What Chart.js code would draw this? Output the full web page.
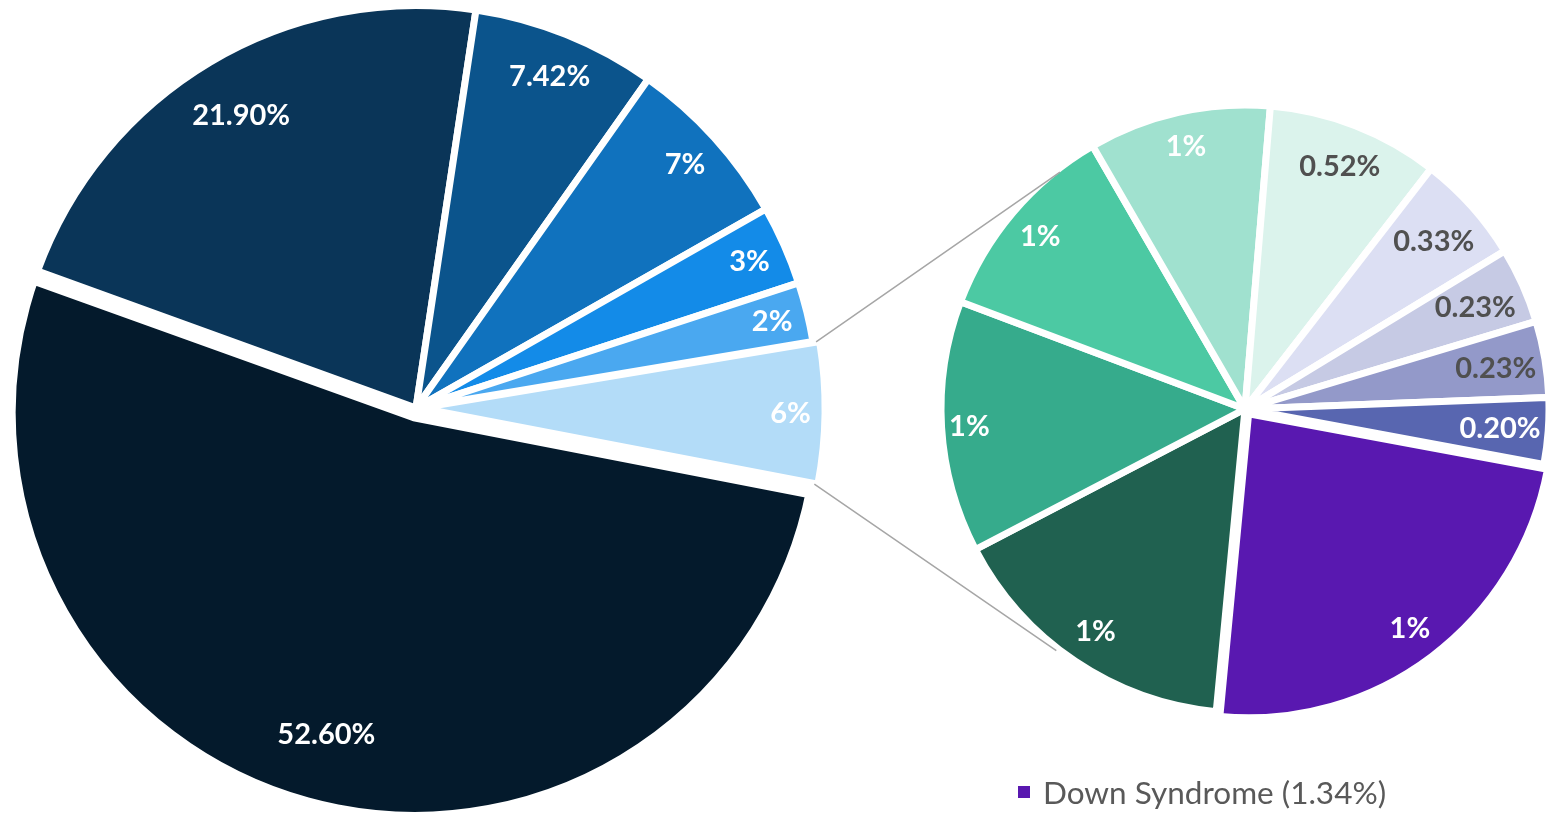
<!DOCTYPE html>
<html>
<head>
<meta charset="utf-8">
<script src="https://cdn.jsdelivr.net/npm/chart.js@4.4.1/dist/chart.umd.min.js"></script>
<style>
  html, body { margin: 0; padding: 0; background: #fff; overflow: hidden; }
  #wrap { position: relative; width: 1547px; height: 815px; }
  #wrap canvas { position: absolute; left: 0; top: 0; }
  #legend { position: absolute; left: 1018px; top: 773px; font-family: Lato, 'Open Sans', sans-serif;
            font-size: 31.5px; color: #595959; display: flex; align-items: center; white-space: nowrap; }
  #legend .box { width: 12px; height: 12px; background: #5918B0; margin-right: 13px; display: inline-block; }
</style>
</head>
<body>
<div id="wrap">
  <canvas id="main-pie" width="1547" height="815"></canvas>
  <canvas id="sub-pie" width="1547" height="815"></canvas>
  <div id="legend"><span class="box"></span><span id="legend-text"></span></div>
</div>
<script>
// primary pie (first slice = "Other", split out into the second pie)
const main_categories = ['Other', 'Category A', 'Category B', 'Category C', 'Category D', 'Category E', 'Category F'];
const main_values = [5.68, 52.6, 21.9, 7.42, 7.0, 3.2, 2.4];
const main_labels = ['6%', '52.60%', '21.90%', '7.42%', '7%', '3%', '2%'];

// secondary pie (breakdown of "Other")
const sub_categories = ['Down Syndrome', 'Category G', 'Category H', 'Category I', 'Category J',
                        'Category K', 'Category L', 'Category M', 'Category N', 'Category O'];
const sub_values = [1.34, 0.90, 0.76, 0.62, 0.55, 0.52, 0.33, 0.23, 0.23, 0.20];
const sub_labels = ['1%', '1%', '1%', '1%', '1%', '0.52%', '0.33%', '0.23%', '0.23%', '0.20%'];

// styles
const BORDER = 7;
const main_colors = ['#B3DCF8', '#041A2C', '#0A3558', '#0B548C', '#1072BE', '#138BE8', '#4AA8F0'];
const main_offsets = [16, 20, 0, 0, 0, 0, 0];
// wider border on the big exploded slice cancels chart.js' radius growth for it
const main_borders = [BORDER, BORDER + 10, BORDER, BORDER, BORDER, BORDER, BORDER];
const sub_colors = ['#5918B0', '#206150', '#36AB8C', '#4CC9A3', '#A0E1CF',
                    '#DBF3EC', '#DCDFF3', '#C6CAE4', '#9399C9', '#5866B0'];
const sub_offsets = [24, 0, 0, 0, 0, 0, 0, 0, 0, 0];
const main_label_colors = main_labels.map(() => '#ffffff');
const sub_label_colors = ['#fff', '#fff', '#fff', '#fff', '#fff', '#505050', '#505050', '#505050', '#505050', '#fff'];
const LABEL_FONT = 'bold 29px Lato, "Open Sans", sans-serif';

// chart.js moves an arc by offset/4 and grows its radius by offset/4 * (1 - sin(span))
function arcShift(arc) {
    const p = arc.getProps(['startAngle', 'endAngle'], true);
    const span = p.endAngle - p.startAngle;
    const o = (arc.options.offset || 0) / 4;
    return { move: o, grow: o * (1 - Math.sin(Math.min(Math.PI, span))) };
}

// labels drawn "inside end" like Excel does
const insideEndLabels = {
    id: 'insideEndLabels',
    afterDatasetsDraw(chart, args, opts) {
        const ctx = chart.ctx;
        const meta = chart.getDatasetMeta(0);
        ctx.save();
        ctx.font = opts.font;
        ctx.textAlign = 'center';
        ctx.textBaseline = 'middle';
        meta.data.forEach((arc, i) => {
            const p = arc.getProps(['x', 'y', 'startAngle', 'endAngle', 'outerRadius'], true);
            const mid = (p.startAngle + p.endAngle) / 2;
            const span = p.endAngle - p.startAngle;
            const sh = arcShift(arc);
            const w = ctx.measureText(opts.texts[i]).width;
            const extent = Math.abs(Math.cos(mid)) * (w / 2 - opts.padX) + Math.abs(Math.sin(mid)) * opts.textHeight / 2;
            const inset = opts.margin + extent + opts.bigInset * Math.max(0, span - 0.6);
            const r = sh.move + p.outerRadius - BORDER / 2 - inset;
            ctx.fillStyle = opts.colors[i];
            ctx.fillText(opts.texts[i], p.x + Math.cos(mid) * r, p.y + Math.sin(mid) * r + 1);
        });
        ctx.restore();
    }
};

const main_chart = new Chart(document.getElementById('main-pie'), {
    type: 'pie',
    data: {
        labels: main_categories,
        datasets: [{
            data: main_values,
            backgroundColor: main_colors,
            borderColor: '#ffffff',
            borderWidth: main_borders,
            offset: main_offsets
        }]
    },
    options: {
        responsive: false,
        animation: false,
        events: [],
        rotation: 80.5,
        radius: 402.5,
        layout: { padding: { left: 0, right: 715, top: 1, bottom: 0 } },
        plugins: {
            legend: { display: false },
            tooltip: { enabled: false },
            insideEndLabels: {
                texts: main_labels,
                colors: main_label_colors,
                font: LABEL_FONT,
                textHeight: 38,
                padX: 0,
                margin: 8,
                bigInset: 10
            }
        }
    },
    plugins: [insideEndLabels]
});

// gray connector lines from the "Other" slice to the second pie
const connectors = {
    id: 'connectors',
    afterDraw(chart) {
        const ctx = chart.ctx;
        const other = main_chart.getDatasetMeta(0).data[0];
        const a = other.getProps(['x', 'y', 'startAngle', 'endAngle', 'outerRadius'], true);
        const sh = arcShift(other);
        const mid = (a.startAngle + a.endAngle) / 2;
        const cx = a.x + Math.cos(mid) * sh.move;
        const cy = a.y + Math.sin(mid) * sh.move;
        const r = a.outerRadius + sh.grow - BORDER / 2;

        const s = chart.getDatasetMeta(0).data[1].getProps(['x', 'y', 'outerRadius'], true);
        const sr = s.outerRadius - BORDER / 2;
        const spread = 52 * Math.PI / 180;

        ctx.save();
        ctx.strokeStyle = '#A6A6A6';
        ctx.lineWidth = 1.5;
        ctx.beginPath();
        ctx.moveTo(cx + Math.cos(a.startAngle) * r, cy + Math.sin(a.startAngle) * r);
        ctx.lineTo(s.x + Math.cos(Math.PI + spread) * sr, s.y + Math.sin(Math.PI + spread) * sr);
        ctx.moveTo(cx + Math.cos(a.endAngle) * r, cy + Math.sin(a.endAngle) * r);
        ctx.lineTo(s.x + Math.cos(Math.PI - spread) * (sr + 6), s.y + Math.sin(Math.PI - spread) * (sr + 6));
        ctx.stroke();
        ctx.restore();
    }
};

const sub_chart = new Chart(document.getElementById('sub-pie'), {
    type: 'pie',
    data: {
        labels: sub_categories,
        datasets: [{
            data: sub_values,
            backgroundColor: sub_colors,
            borderColor: '#ffffff',
            borderWidth: BORDER,
            offset: sub_offsets
        }]
    },
    options: {
        responsive: false,
        animation: false,
        events: [],
        rotation: 100.5,
        radius: 304,
        layout: { padding: { left: 943, right: 0, top: 3, bottom: 0 } },
        plugins: {
            legend: { display: false },
            tooltip: { enabled: false },
            insideEndLabels: {
                texts: sub_labels,
                colors: sub_label_colors,
                font: LABEL_FONT,
                textHeight: 38,
                padX: 6,
                margin: 9,
                bigInset: 0
            }
        }
    },
    plugins: [insideEndLabels, connectors]
});

// single legend entry, as in the original
document.getElementById('legend-text').textContent =
    sub_categories[0] + ' (' + sub_values[0].toFixed(2) + '%)';
</script>
</body>
</html>
